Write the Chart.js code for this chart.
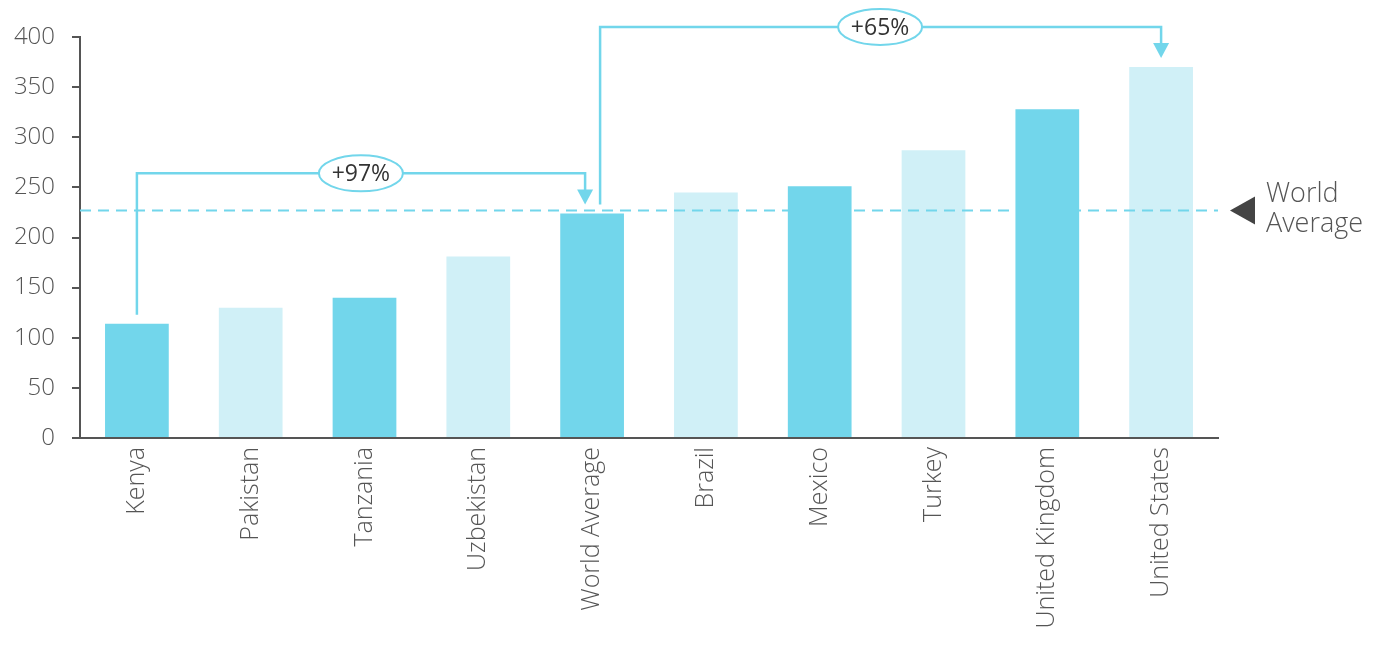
<!DOCTYPE html>
<html>
<head>
<meta charset="utf-8">
<script src="https://cdn.jsdelivr.net/npm/chart.js@4/dist/chart.umd.min.js"></script>
<style>
  html, body { margin: 0; padding: 0; background: #fff; }
  #wrap { width: 1373px; height: 647px; }
</style>
</head>
<body>
<div id="wrap"><canvas id="chart"></canvas></div>
<script>
// categories and values
const countries = ['Kenya', 'Pakistan', 'Tanzania', 'Uzbekistan', 'World Average',
  'Brazil', 'Mexico', 'Turkey', 'United Kingdom', 'United States'];
const values = [114, 130, 140, 181, 224, 245, 251, 287, 328, 370];
const yTicks = [0, 50, 100, 150, 200, 250, 300, 350, 400];
const worldAverage = 227;

// brackets: from bar -> to bar, level of the horizontal run (in axis units)
const brackets = [
  { from: 0, to: 4, level: 264, label: '+97%' },
  { from: 4, to: 9, level: 410, label: '+65%' }
];

const DARK = '#72d6eb';
const LIGHT = '#d0f0f7';
const LINE = '#72d6eb';
const FONT = '"Open Sans", Lato, sans-serif';

const barColors = values.map((v, i) => i % 2 === 0 ? DARK : LIGHT);

const annotations = {
  id: 'annotations',
  afterDatasetsDraw(chart) {
    const { ctx, chartArea, scales: { x, y } } = chart;
    ctx.save();

    // world average dashed line
    const ya = y.getPixelForValue(worldAverage);
    ctx.strokeStyle = LINE;
    ctx.lineWidth = 2;
    ctx.setLineDash([11, 7]);
    ctx.beginPath();
    ctx.moveTo(chartArea.left, ya);
    ctx.lineTo(chartArea.right, ya);
    ctx.stroke();
    ctx.setLineDash([]);

    // label on the right
    ctx.fillStyle = '#444';
    ctx.beginPath();
    ctx.moveTo(chartArea.right + 12, ya);
    ctx.lineTo(chartArea.right + 37, ya - 14);
    ctx.lineTo(chartArea.right + 37, ya + 14);
    ctx.closePath();
    ctx.fill();
    ctx.fillStyle = '#555';
    ctx.font = '300 27px ' + FONT;
    ctx.textAlign = 'left';
    ctx.textBaseline = 'middle';
    ctx.fillText('World', chartArea.right + 48, ya - 16);
    ctx.fillText('Average', chartArea.right + 48, ya + 14);

    // brackets with arrows
    brackets.forEach((b, n) => {
      const x0 = x.getPixelForValue(b.from) + (n === 0 ? 0 : 8);
      const x1 = x.getPixelForValue(b.to) - (n === 0 ? 7 : 0);
      const y0 = y.getPixelForValue(values[b.from]) - 9;
      const y1 = y.getPixelForValue(values[b.to]) - 9;
      const yl = y.getPixelForValue(b.level);

      ctx.strokeStyle = LINE;
      ctx.lineWidth = 2.5;
      ctx.beginPath();
      ctx.moveTo(x0, y0);
      ctx.lineTo(x0, yl);
      ctx.lineTo(x1, yl);
      ctx.lineTo(x1, y1 - 14);
      ctx.stroke();

      ctx.fillStyle = LINE;
      ctx.beginPath();
      ctx.moveTo(x1 - 8, y1 - 15);
      ctx.lineTo(x1 + 8, y1 - 15);
      ctx.lineTo(x1, y1);
      ctx.closePath();
      ctx.fill();

      // label bubble
      const cx = n === 0 ? x0 + 224 : x0 + 280;
      ctx.fillStyle = '#fff';
      ctx.strokeStyle = LINE;
      ctx.lineWidth = 2;
      ctx.beginPath();
      ctx.ellipse(cx, yl, 42, 18, 0, 0, Math.PI * 2);
      ctx.fill();
      ctx.stroke();
      ctx.fillStyle = '#333';
      ctx.font = '400 23px ' + FONT;
      ctx.textAlign = 'center';
      ctx.textBaseline = 'middle';
      ctx.fillText(b.label, cx, yl + 1);
    });

    ctx.restore();
  }
};

new Chart(document.getElementById('chart'), {
  type: 'bar',
  data: {
    labels: countries,
    datasets: [{
      data: values,
      backgroundColor: barColors,
      barPercentage: 0.56,
      categoryPercentage: 1
    }]
  },
  options: {
    responsive: true,
    maintainAspectRatio: false,
    animation: false,
    layout: { padding: { top: 37, right: 155, left: 0, bottom: 0 } },
    plugins: {
      legend: { display: false },
      tooltip: { enabled: false }
    },
    scales: {
      x: {
        grid: { display: false, drawTicks: false },
        border: { color: '#555', width: 2 },
        ticks: {
          color: '#555',
          font: { family: FONT, size: 25, weight: '300' },
          minRotation: 90,
          maxRotation: 90,
          padding: 9,
          autoSkip: false
        },
        afterFit: s => { s.height = 209; }
      },
      y: {
        min: 0,
        max: 400,
        afterBuildTicks: s => { s.ticks = yTicks.map(v => ({ value: v })); },
        grid: { drawOnChartArea: false, drawTicks: true, tickLength: 8, color: '#555', lineWidth: 2 },
        border: { color: '#555', width: 2 },
        ticks: {
          color: '#555',
          font: { family: FONT, size: 24, weight: '300' },
          padding: 17
        },
        afterFit: s => { s.width = 80; }
      }
    }
  },
  plugins: [annotations]
});
</script>
</body>
</html>
